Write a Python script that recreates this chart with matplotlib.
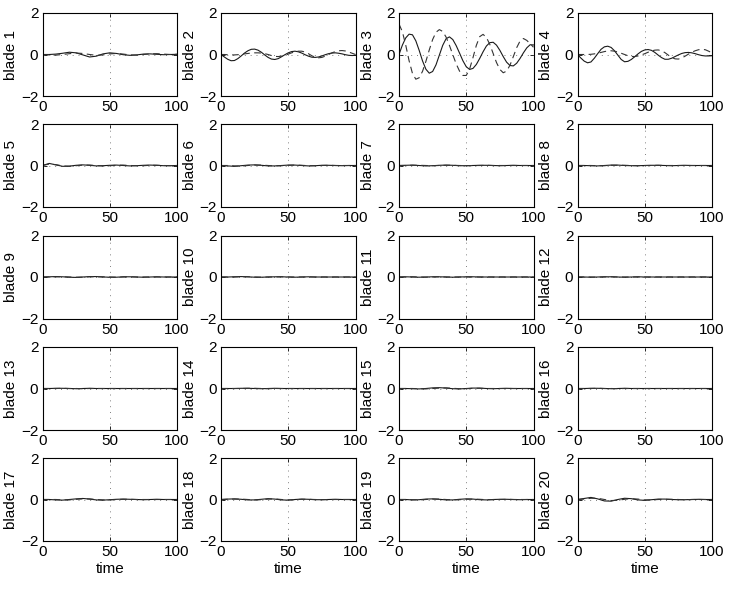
"""Blade responses, 5x4 grid (solid vs dashed), MATLAB-like styling."""
import matplotlib
matplotlib.use("Agg")
import matplotlib.pyplot as plt
import numpy as np

plt.rcParams["font.family"] = ["Liberation Sans", "DejaVu Sans"]
plt.rcParams["font.size"] = 11

# fine grid (step 2.5) for the blades that actually move
t_fine = np.arange(0, 100.1, 2.5)
# coarse grid (step 5) for the nearly flat blades
t_coarse = np.arange(0, 100.1, 5)

blade2_solid = [0, -0.12, -0.23, -0.30, -0.29, -0.20, -0.07, 0.07, 0.18, 0.25, 0.26,
                0.21, 0.11, -0.02, -0.14, -0.22, -0.24, -0.20, -0.11, -0.01, 0.08,
                0.14, 0.16, 0.13, 0.07, -0.01, -0.08, -0.13, -0.14, -0.12, -0.07,
                -0.01, 0.04, 0.07, 0.08, 0.06, 0.03, -0.01, -0.04, -0.05, -0.04]
blade2_dash = [0, 0.0, -0.01, -0.02, -0.02, -0.01, 0.01, 0.03, 0.05, 0.07, 0.08,
               0.08, 0.07, 0.04, 0.0, -0.05, -0.09, -0.10, -0.08, -0.04, 0.02,
               0.08, 0.13, 0.16, 0.16, 0.12, 0.04, -0.06, -0.13, -0.16, -0.14,
               -0.08, 0.0, 0.08, 0.14, 0.18, 0.19, 0.17, 0.12, 0.06, 0.0]

blade3_solid = [0, 0.45, 0.80, 0.98, 0.95, 0.66, 0.20, -0.31, -0.71, -0.90, -0.82,
                -0.50, -0.03, 0.44, 0.76, 0.85, 0.72, 0.43, 0.07, -0.30, -0.59,
                -0.72, -0.67, -0.48, -0.19, 0.13, 0.41, 0.57, 0.59, 0.45, 0.20,
                -0.10, -0.37, -0.53, -0.55, -0.42, -0.19, 0.08, 0.32, 0.47, 0.46]
blade3_dash = [1.47, 1.10, 0.45, -0.30, -0.91, -1.19, -1.12, -0.81, -0.33, 0.22, 0.72,
               1.07, 1.20, 1.11, 0.84, 0.44, -0.01, -0.45, -0.80, -1.01, -1.01,
               -0.70, -0.15, 0.44, 0.86, 0.97, 0.82, 0.49, 0.05, -0.39, -0.72,
               -0.88, -0.80, -0.52, -0.10, 0.33, 0.65, 0.77, 0.68, 0.52, 0.35]

blade4_solid = [0, -0.17, -0.32, -0.40, -0.36, -0.18, 0.04, 0.25, 0.37, 0.40, 0.34,
                0.18, -0.03, -0.24, -0.35, -0.33, -0.24, -0.11, 0.03, 0.15, 0.22,
                0.24, 0.20, 0.10, -0.03, -0.15, -0.23, -0.23, -0.18, -0.10, -0.02,
                0.05, 0.09, 0.10, 0.08, 0.04, -0.01, -0.05, -0.07, -0.07, -0.06]
blade4_dash = [0, 0.0, 0.0, 0.0, 0.01, 0.03, 0.06, 0.10, 0.14, 0.17, 0.18,
               0.16, 0.12, 0.06, 0.0, -0.06, -0.09, -0.10, -0.07, -0.02, 0.04,
               0.11, 0.17, 0.21, 0.22, 0.18, 0.09, -0.03, -0.14, -0.21, -0.22,
               -0.17, -0.08, 0.02, 0.11, 0.18, 0.23, 0.25, 0.23, 0.16, 0.08]

blade1_solid = [0, 0.0, 0.02, 0.06, 0.11, 0.08, -0.02, -0.12, -0.08, 0.03, 0.08,
                0.05, -0.01, -0.04, -0.02, 0.02, 0.03, 0.01, -0.01, 0.0, 0.01]
blade1_dash = [0, -0.02, -0.03, 0.0, 0.04, 0.07, 0.05, 0.0, -0.04, -0.02, 0.03,
               0.05, 0.02, -0.02, -0.03, 0.0, 0.03, 0.04, 0.02, 0.0, 0.01]

small_solid = {
    5: [0, 0.10, 0.03, -0.04, -0.03, 0.01, 0.03, 0.01, -0.02, -0.01, 0.01,
        0.02, 0.0, -0.02, -0.01, 0.01, 0.02, 0.01, -0.01, -0.01, 0.0],
    6: [0, -0.02, -0.04, -0.01, 0.02, 0.03, 0.01, -0.02, -0.02, 0.0, 0.02,
        0.02, 0.0, -0.02, -0.01, 0.01, 0.01, 0.0, -0.01, 0.0, 0.0],
    7: [0, 0.01, 0.02, 0.0, -0.02, -0.01, 0.01, 0.02, 0.01, -0.01, -0.01,
        0.0, 0.01, 0.01, 0.0, -0.01, 0.0, 0.01, 0.0, 0.0, 0.0],
    8: [0, 0.0, -0.01, -0.02, 0.0, 0.02, 0.02, 0.0, -0.01, -0.01, 0.0,
        0.01, 0.01, 0.0, -0.01, 0.0, 0.01, 0.0, 0.0, 0.0, 0.0],
    9: [0, 0.01, 0.02, 0.01, -0.01, -0.02, 0.0, 0.02, 0.02, 0.0, -0.01,
        -0.01, 0.01, 0.01, 0.0, -0.01, 0.0, 0.01, 0.0, 0.0, 0.0],
    10: [0, 0.0, 0.01, 0.02, 0.01, -0.01, -0.01, 0.0, 0.01, 0.01, 0.0,
         -0.01, 0.0, 0.01, 0.0, 0.0, 0.0, 0.0, 0.0, 0.0, 0.0],
    11: [0, 0.01, 0.0, -0.01, 0.0, 0.01, 0.01, 0.0, -0.01, 0.0, 0.01,
         0.01, 0.0, 0.0, 0.0, 0.0, 0.0, 0.0, 0.0, 0.0, 0.0],
    12: [0, 0.0, -0.01, 0.0, 0.01, 0.01, 0.0, -0.01, 0.0, 0.01, 0.0,
         0.0, 0.0, 0.0, 0.0, 0.0, 0.0, 0.0, 0.0, 0.0, 0.0],
    13: [0, 0.0, 0.01, 0.01, 0.0, -0.01, 0.0, 0.01, 0.0, 0.0, 0.0,
         0.0, 0.0, 0.0, 0.0, 0.0, 0.0, 0.0, 0.0, 0.0, 0.0],
    14: [0, 0.0, 0.0, 0.01, 0.01, 0.0, -0.01, 0.0, 0.01, 0.0, 0.0,
         0.0, 0.0, 0.0, 0.0, 0.0, 0.0, 0.0, 0.0, 0.0, 0.0],
    15: [0, 0.0, -0.01, -0.02, 0.0, 0.03, 0.04, 0.02, -0.01, -0.02, 0.0,
         0.02, 0.02, 0.0, -0.01, 0.0, 0.01, 0.0, 0.0, 0.0, 0.0],
    16: [0, 0.0, 0.01, 0.01, 0.0, -0.01, 0.0, 0.01, 0.0, 0.0, 0.0,
         0.0, 0.0, 0.0, 0.0, 0.0, 0.0, 0.0, 0.0, 0.0, 0.0],
    17: [0, 0.0, -0.02, -0.03, 0.0, 0.03, 0.05, 0.02, -0.02, -0.03, -0.01,
         0.01, 0.02, 0.01, 0.0, -0.01, 0.0, 0.01, 0.0, 0.0, 0.0],
    18: [0, 0.02, 0.03, 0.01, -0.02, -0.02, 0.01, 0.04, 0.02, -0.02, -0.03,
         0.0, 0.02, 0.01, -0.01, -0.01, 0.0, 0.01, 0.0, 0.0, 0.0],
    19: [0, 0.0, -0.02, -0.01, 0.02, 0.03, 0.01, -0.02, -0.02, 0.01, 0.03,
         0.02, -0.01, -0.02, 0.0, 0.01, 0.01, 0.0, -0.01, 0.0, 0.0],
    20: [0, 0.05, 0.10, 0.03, -0.07, -0.08, 0.0, 0.06, 0.04, -0.02, -0.04,
         -0.01, 0.02, 0.02, 0.0, -0.01, -0.01, 0.0, 0.01, 0.0, 0.0],
}
small_dash = {
    5: [0, 0.07, 0.04, -0.02, -0.04, -0.01, 0.02, 0.02, 0.0, -0.02, -0.01,
        0.01, 0.02, 0.0, -0.01, -0.01, 0.01, 0.01, 0.0, -0.01, 0.0],
    6: [0, 0.0, -0.02, -0.03, 0.0, 0.02, 0.02, 0.0, -0.02, -0.01, 0.01,
        0.02, 0.01, -0.01, -0.01, 0.0, 0.01, 0.0, 0.0, 0.0, 0.0],
    7: [0, 0.0, 0.01, 0.01, 0.0, -0.01, 0.0, 0.01, 0.01, 0.0, -0.01,
        0.0, 0.0, 0.01, 0.0, 0.0, 0.0, 0.0, 0.0, 0.0, 0.0],
    8: [0, 0.0, 0.0, -0.01, -0.01, 0.01, 0.01, 0.01, 0.0, -0.01, 0.0,
        0.0, 0.01, 0.0, 0.0, 0.0, 0.0, 0.0, 0.0, 0.0, 0.0],
    9: [0, 0.0, 0.01, 0.01, 0.0, -0.01, -0.01, 0.01, 0.01, 0.01, 0.0,
        -0.01, 0.0, 0.01, 0.0, 0.0, 0.0, 0.0, 0.0, 0.0, 0.0],
    10: [0, 0.0, 0.0, 0.01, 0.01, 0.0, -0.01, 0.0, 0.0, 0.01, 0.0,
         0.0, 0.0, 0.0, 0.0, 0.0, 0.0, 0.0, 0.0, 0.0, 0.0],
    11: [0, 0.0, 0.01, 0.0, -0.01, 0.0, 0.01, 0.0, 0.0, 0.0, 0.0,
         0.0, 0.0, 0.0, 0.0, 0.0, 0.0, 0.0, 0.0, 0.0, 0.0],
    12: [0, 0.0, 0.0, -0.01, 0.0, 0.01, 0.0, 0.0, 0.0, 0.0, 0.0,
         0.0, 0.0, 0.0, 0.0, 0.0, 0.0, 0.0, 0.0, 0.0, 0.0],
    13: [0, 0.0, 0.0, 0.01, 0.0, 0.0, -0.01, 0.0, 0.0, 0.0, 0.0,
         0.0, 0.0, 0.0, 0.0, 0.0, 0.0, 0.0, 0.0, 0.0, 0.0],
    14: [0, 0.0, 0.0, 0.0, 0.01, 0.01, 0.0, -0.01, 0.0, 0.0, 0.0,
         0.0, 0.0, 0.0, 0.0, 0.0, 0.0, 0.0, 0.0, 0.0, 0.0],
    15: [0, 0.0, 0.0, -0.01, -0.02, 0.0, 0.02, 0.03, 0.01, -0.01, -0.01,
         0.01, 0.01, 0.0, 0.0, 0.0, 0.0, 0.0, 0.0, 0.0, 0.0],
    16: [0, 0.0, 0.0, 0.01, 0.0, 0.0, -0.01, 0.0, 0.0, 0.0, 0.0,
         0.0, 0.0, 0.0, 0.0, 0.0, 0.0, 0.0, 0.0, 0.0, 0.0],
    17: [0, 0.0, 0.0, -0.02, -0.02, 0.01, 0.03, 0.03, 0.0, -0.02, -0.02,
         0.0, 0.01, 0.01, 0.0, 0.0, 0.0, 0.0, 0.0, 0.0, 0.0],
    18: [0, 0.01, 0.02, 0.02, 0.0, -0.02, -0.01, 0.02, 0.03, 0.0, -0.02,
         -0.01, 0.01, 0.01, 0.0, -0.01, 0.0, 0.0, 0.0, 0.0, 0.0],
    19: [0, 0.0, -0.01, -0.02, 0.0, 0.02, 0.02, 0.0, -0.02, -0.01, 0.01,
         0.02, 0.01, -0.01, -0.01, 0.0, 0.01, 0.0, 0.0, 0.0, 0.0],
    20: [0, 0.02, 0.06, 0.06, 0.0, -0.05, -0.04, 0.01, 0.04, 0.02, -0.02,
         -0.02, 0.0, 0.01, 0.01, 0.0, -0.01, 0.0, 0.0, 0.0, 0.0],
}

series = {
    1: (t_coarse, blade1_solid, blade1_dash),
    2: (t_fine, blade2_solid, blade2_dash),
    3: (t_fine, blade3_solid, blade3_dash),
    4: (t_fine, blade4_solid, blade4_dash),
}
for k in small_solid:
    series[k] = (t_coarse, small_solid[k], small_dash[k])

W, H = 729, 591
col_left = [42.5, 221, 399, 577.5]
row_top = [13, 124, 235.5, 347, 458]
ax_w, ax_h = 134.5, 83

fig = plt.figure(figsize=(W / 100, H / 100), dpi=100)
for i in range(20):
    r, c = divmod(i, 4)
    ax = fig.add_axes([col_left[c] / W, 1 - (row_top[r] + ax_h) / H, ax_w / W, ax_h / H])
    t, s, d = series[i + 1]
    ax.axvline(50, color="0.5", lw=0.7, ls=(0, (1, 5)))
    ax.axhline(0, color="0.5", lw=0.7, ls=(0, (1, 5)))
    ax.plot(t, s, color="0.1", lw=0.8)
    ax.plot(t, d, color="0.2", lw=0.8, ls=(0, (6, 4)))
    ax.set_xlim(0, 100)
    ax.set_ylim(-2, 2)
    ax.set_xticks([0, 50, 100])
    ax.set_yticks([-2, 0, 2])
    ax.tick_params(direction="in", length=3, width=0.6, top=True, right=True, pad=3)
    for sp in ax.spines.values():
        sp.set_linewidth(0.8)
    ax.set_ylabel(f"blade {i + 1}", labelpad=2)
    if r == 4:
        ax.set_xlabel("time", labelpad=2)

fig.savefig("out.png", dpi=100)
